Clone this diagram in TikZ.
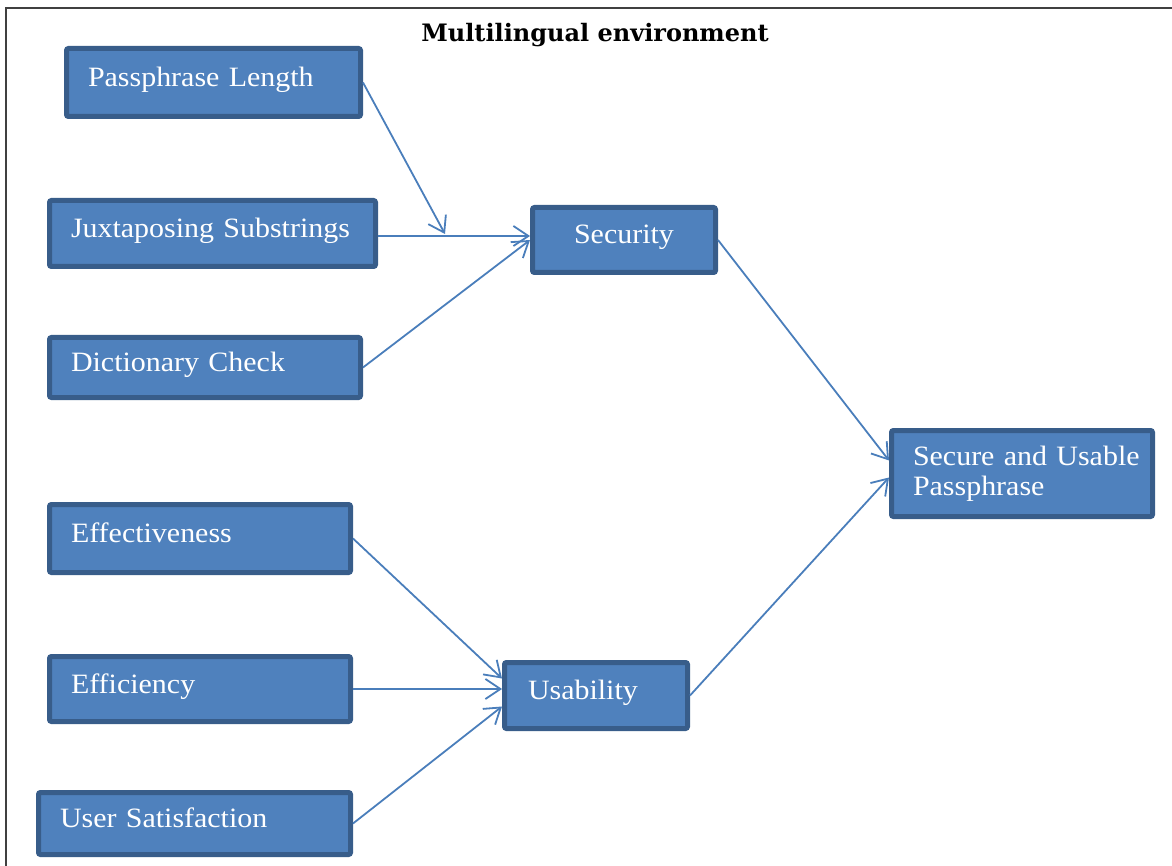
\documentclass[tikz,border=0pt]{standalone}
\usepackage{fontspec}
\setmainfont{Liberation Serif}[FakeStretch=1.07, WordSpace=0.8]
\newfontfamily\titlefont{DejaVu Serif}
\usetikzlibrary{arrows.meta}
\definecolor{boxfill}{HTML}{4F81BD}
\definecolor{boxline}{HTML}{385D8A}
\definecolor{arrowc}{HTML}{4A7EBB}
\definecolor{framec}{HTML}{404040}
\tikzset{
  box/.style={rectangle, draw=boxline, fill=boxfill, line width=5pt, rounded corners=2pt,
    anchor=north west, inner xsep=21.5pt, inner ysep=0pt, align=left, text=white,
    font=\fontsize{28}{30}\selectfont},
  onel/.style={text height=18pt, text depth=10pt},
  conn/.style={draw=arrowc, line width=1.8pt, -{Straight Barb[length=15pt,width=20pt,line width=1.8pt]}},
  frame/.style={draw=framec, line width=2pt}
}
\begin{document}
\begin{tikzpicture}[x=1pt,y=-1pt]
\useasboundingbox (0,0) rectangle (1172,866);
\draw[frame] (6,866) -- (6,8) -- (1172,8);
\node[anchor=base, font=\titlefont\bfseries\fontsize{24}{26}\selectfont] (title) at (595,42) {Multilingual environment};

\node[box, onel, minimum width=294pt, minimum height=68pt, text width=251pt] (pl) at (64,46) {\mbox{Passphrase Length}};
\node[box, onel, minimum width=326pt, minimum height=66pt, text width=283pt] (js) at (47,198) {\mbox{Juxtaposing Substrings}};
\node[box, onel, minimum width=311pt, minimum height=60pt, text width=268pt] (dc) at (47,335) {\mbox{Dictionary Check}};
\node[box, onel, minimum width=301pt, minimum height=68pt, text width=258pt] (ef) at (47,502) {Effectiveness};
\node[box, onel, minimum width=301pt, minimum height=65pt, text width=258pt] (ec) at (47,654) {Efficiency};
\node[box, onel, minimum width=312pt, minimum height=62pt, text width=269pt] (us) at (36,790) {\mbox{User Satisfaction}};
\node[box, onel, minimum width=183pt, minimum height=65pt, inner xsep=0pt, text width=183pt, align=center] (sec) at (530,205) {Security};
\node[box, onel, minimum width=183pt, minimum height=66pt, inner xsep=23.5pt, text width=136pt] (usa) at (502,660) {Usability};
\node[box, minimum width=261pt, minimum height=86pt, text width=218pt] (sup) at (889,428) {\mbox{Secure and Usable}\\Passphrase};

\coordinate (m) at (445,234);
\coordinate (jsout) at ([yshift=-2.5pt]js.east);
\draw[conn] (pl.east) -- (m);
\draw[conn] (jsout) -- (sec.west |- jsout);
\draw[conn] (dc.east) -- (sec.west);
\draw[conn] (sec.east) -- ([yshift=13pt]sup.west);
\draw[conn] (ef.east) -- ([yshift=17pt]usa.west);
\draw[conn] (ec.east) -- (usa.west |- ec.east);
\draw[conn] (us.east) -- ([yshift=-11pt]usa.west);
\draw[conn] (usa.east) -- ([yshift=-4pt]sup.west);
\end{tikzpicture}
\end{document}
